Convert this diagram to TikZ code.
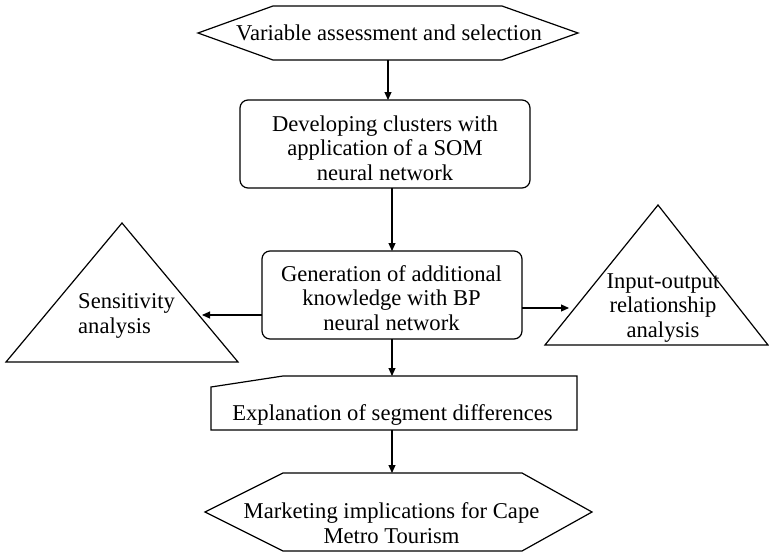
\documentclass[tikz,border=0pt]{standalone}
\usepackage{fontspec}
\setmainfont{Liberation Serif}
\usetikzlibrary{arrows.meta}
\begin{document}
\begin{tikzpicture}[x=1pt,y=-1pt,
  shp/.style={draw=black,line width=1.2pt,line join=miter},
  conn/.style={draw=black,line width=1.1pt,-{Triangle[length=8pt,width=7pt]}},
  lbl/.style={font=\fontsize{22.6}{24.5}\selectfont,inner sep=0pt,anchor=base,align=center},
]
\useasboundingbox (0,0) rectangle (769,552);
% shapes
\draw[shp] (198,33) -- (273,6) -- (502,6) -- (578,33) -- (502,60) -- (273,60) -- cycle;
\draw[shp,rounded corners=8pt] (240,100) rectangle (530,188);
\draw[shp,rounded corners=8pt] (262,251) rectangle (522,339);
\draw[shp] (6,362) -- (122,223) -- (238,362) -- cycle;
\draw[shp] (545,345) -- (658,205) -- (768,345) -- cycle;
\draw[shp] (211,430) -- (211,387) -- (283,376) -- (577,376) -- (577,430) -- cycle;
\draw[shp] (205,512) -- (283,473) -- (522,473) -- (592,512) -- (522,551) -- (283,551) -- cycle;
% anchor coordinates
\coordinate (hexTopS) at (388,60);
\coordinate (somN) at (388,100);
\coordinate (somS) at (392,188);
\coordinate (bpN) at (392,251);
\coordinate (bpW) at (262,315);
\coordinate (bpE) at (522,308);
\coordinate (bpS) at (392,339);
\coordinate (sensE) at (202,315);
\coordinate (ioW) at (569,308);
\coordinate (explN) at (392,376);
\coordinate (explS) at (392,430);
\coordinate (mktN) at (392,473);
% texts (base = baseline of last line)
\node[lbl] (var) at (389,40.7) {Variable assessment and selection};
\node[lbl] (som) at (385,180) {Developing clusters with\\application of a SOM\\neural network};
\node[lbl] (bp) at (391.5,330) {Generation of additional\\knowledge with BP\\neural network};
\node[lbl,align=left,anchor=base west] (sens) at (78,333) {Sensitivity\\analysis};
\node[lbl] (io) at (663,337) {Input-output\\relationship\\analysis};
\node[lbl] (expl) at (392.5,420.7) {Explanation of segment differences};
\node[lbl] (mkt) at (391.5,543) {Marketing implications for Cape\\Metro Tourism};
% connectors
\draw[conn] (hexTopS) -- (somN);
\draw[conn] (somS) -- (bpN);
\draw[conn] (bpW) -- (sensE);
\draw[conn] (bpE) -- (ioW);
\draw[conn] (bpS) -- (explN);
\draw[conn] (explS) -- (mktN);
\end{tikzpicture}
\end{document}
